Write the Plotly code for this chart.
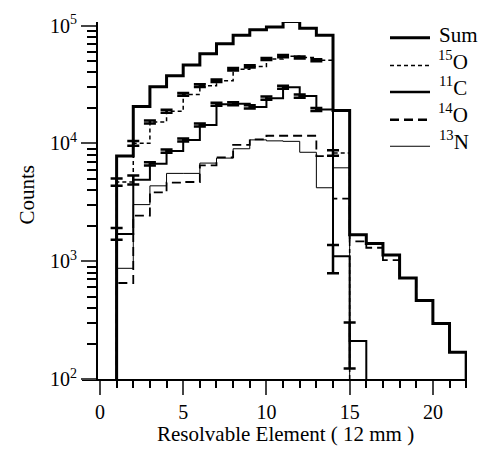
import plotly.graph_objects as go

# ---------------- data ----------------
bins_sum = list(range(0, 23))
sum_counts = [0, 7.8e3, 2.06e4, 3.03e4, 3.75e4, 4.63e4, 5.77e4, 7.0e4, 8.26e4, 9.2e4,
              9.7e4, 1.08e5, 9.5e4, 8.26e4, 1.9e4, 1.68e3, 1.41e3, 1.13e3, 720, 464,
              296, 169, 0]

bins_o15 = list(range(0, 16))
o15_counts = [0, 4.7e3, 1.0e4, 1.52e4, 1.87e4, 2.6e4, 3.09e4, 3.4e4, 4.26e4, 4.5e4,
              5.2e4, 5.5e4, 5.35e4, 5.07e4, 8.3e3, 0]
o15_err = [0, 330, 450, 450, 550, 700, 800, 850, 1000, 1000, 1100, 1100, 1100, 1000, 450, 0]

bins_c11 = list(range(0, 17))
c11_counts = [0, 1.7e3, 4.9e3, 6.7e3, 8.6e3, 1.07e4, 1.43e4, 2.15e4, 2.17e4, 2.04e4,
              2.42e4, 3.0e4, 2.52e4, 1.94e4, 1.1e3, 210, 0]
c11_err_plus = [0, 210, 430, 200, 260, 320, 430, 640, 650, 610, 730, 900, 760, 580, 270, 92, 0]
c11_err_minus = [0, 180, 430, 200, 260, 320, 430, 640, 650, 610, 730, 900, 760, 580, 310, 87, 0]

bins_o14 = list(range(0, 23))
o14_counts = [0, 653, 2.44e3, 3.83e3, 4.65e3, 4.7e3, 6.5e3, 7.6e3, 9.7e3, 1.08e4,
              1.16e4, 1.16e4, 1.16e4, 7.8e3, 3.4e3, 1.47e3, 1.3e3, 1.02e3, 720, 464,
              296, 169, 0]

bins_n13 = list(range(0, 16))
n13_counts = [0, 870, 3.02e3, 4.36e3, 5.56e3, 5.56e3, 6.8e3, 7.5e3, 9.0e3, 1.07e4,
              1.05e4, 1.04e4, 8.4e3, 4.2e3, 6.2e3, 0]

x_ticks = [0, 5, 10, 15, 20]
y_ticks = [1e2, 1e3, 1e4, 1e5]
y_ticktext = ["10<sup>2</sup>", "10<sup>3</sup>", "10<sup>4</sup>", "10<sup>5</sup>"]

legend_names = ["Sum", "<sup>15</sup>O", "<sup>11</sup>C", "<sup>14</sup>O", "<sup>13</sup>N"]

# ---------------- helpers ----------------
FLOOR = 1.0  # zero counts drawn below the visible range (log axis)
FONT = "Liberation Serif"
W, H = 481, 450
ML, MR, MT, MB = 82, 14, 17, 71
PW, PH = W - ML - MR, H - MT - MB


def px(xp):
    return (xp - ML) / PW


def py(yp):
    return (H - MB - yp) / PH


def floor(v):
    return [max(a, FLOOR) for a in v]


fig = go.Figure()

def step(xs, ys, width, dash="solid", err=None):
    kw = {}
    if err is not None:
        kw["error_y"] = err
    fig.add_trace(go.Scatter(
        x=xs, y=floor(ys), mode="lines", line=dict(shape="hv", color="black", width=width, dash=dash),
        showlegend=False, hoverinfo="skip", **kw))

step(bins_n13, n13_counts, 1)
step(bins_o14, o14_counts, 1.8, dash="9px,5px")
step(bins_c11, c11_counts, 2,
     err=dict(type="data", array=c11_err_plus, arrayminus=c11_err_minus, symmetric=False,
              color="black", thickness=2.5, width=6))
step(bins_o15, o15_counts, 1.5, dash="4px,3px",
     err=dict(type="data", array=o15_err, color="black", thickness=2.5, width=6))
step(bins_sum, sum_counts, 3)

# ---------------- manual legend ----------------
legend_line_y = [33, 61, 88, 116, 143]
legend_text_y = [30, 56, 82.5, 110, 137.5]
legend_text_x = [458, 453, 453, 453, 454]
legend_styles = [(3, "solid"), (1.5, "4px,3px"), (2.5, "solid"), (2.5, "9px,5px"), (1, "solid")]
shapes = []
annotations = []
for name, ly, ty, tx, (lw, ld) in zip(legend_names, legend_line_y, legend_text_y, legend_text_x,
                                        legend_styles):
    shapes.append(dict(type="line", xref="paper", yref="paper", x0=px(390), x1=px(430),
                       y0=py(ly), y1=py(ly), line=dict(color="black", width=lw, dash=ld)))
    annotations.append(dict(text=name, xref="paper", yref="paper", x=px(tx), y=py(ty),
                            xanchor="center", yanchor="middle", showarrow=False,
                            font=dict(family=FONT, size=21, color="black")))

annotations.append(dict(text="Counts", xref="paper", yref="paper", x=px(27), y=py(192),
                        xanchor="center", yanchor="middle", textangle=-90, showarrow=False,
                        font=dict(family=FONT, size=21, color="black")))
annotations.append(dict(text="Resolvable Element ( 12 mm )", xref="paper", yref="paper",
                        x=px(285), y=py(435), xanchor="center", yanchor="middle", showarrow=False,
                        font=dict(family=FONT, size=21, color="black")))

fig.update_layout(
    width=W, height=H, margin=dict(l=ML, r=MR, t=MT, b=MB),
    paper_bgcolor="white", plot_bgcolor="white", showlegend=False,
    shapes=shapes, annotations=annotations,
    font=dict(family=FONT, size=20, color="black"),
    xaxis=dict(range=[-1.08, 22.05], tickvals=x_ticks, ticks="outside", ticklen=14, tickwidth=2,
               showline=True, linewidth=2, linecolor="black", showgrid=False, zeroline=False,
               tickfont=dict(family=FONT, size=20),
               minor=dict(tickvals=list(range(0, 23)), ticks="outside", ticklen=7, tickwidth=2,
                          tickcolor="black", showgrid=False)),
    yaxis=dict(type="log", range=[2, 5.03], tickvals=y_ticks, ticktext=y_ticktext,
               ticks="outside", ticklen=15, tickwidth=2, showline=True, linewidth=2,
               linecolor="black", showgrid=False, zeroline=False, anchor="free",
               position=px(97), tickfont=dict(family=FONT, size=20),
               minor=dict(tickvals=[k * 10 ** d for d in (2, 3, 4) for k in range(2, 10)],
                          ticks="outside", ticklen=9, tickwidth=2, tickcolor="black",
                          showgrid=False)),
)

fig.write_html("out.html")
